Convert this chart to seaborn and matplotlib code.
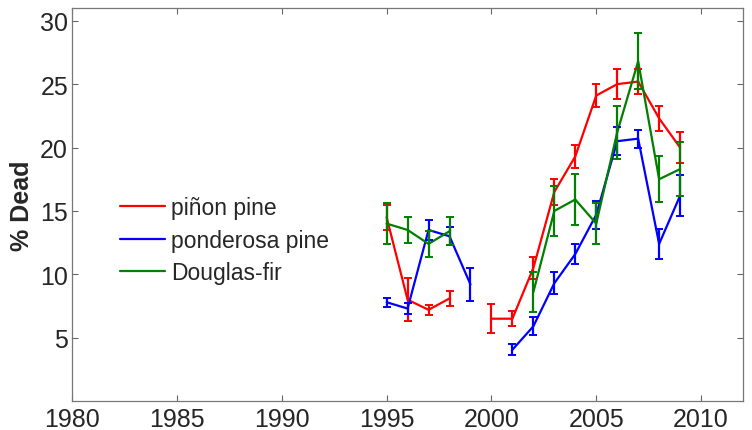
import numpy as np
import pandas as pd
import seaborn as sns
import matplotlib.pyplot as plt

# values (% dead, mean and error)
years = list(range(1995, 2010))
species = ['piñon pine', 'ponderosa pine', 'Douglas-fir']
colors = ['#ff0000', '#0000ff', '#007f00']

pinon = [14.5, 8.0, 7.2, 8.1, np.nan, 6.5, 6.5, 10.5, 16.5, 19.3, 24.1, 25.0, 25.2, 22.3, 20.0]
pinon_err = [1.0, 1.7, 0.4, 0.6, np.nan, 1.15, 0.6, 0.9, 1.0, 0.9, 0.9, 1.2, 1.0, 1.0, 1.2]
ponderosa = [7.8, 7.3, 13.5, 13.0, 9.2, np.nan, 4.05, 5.9, 9.3, 11.6, 14.7, 20.5, 20.7, 12.4, 16.2]
ponderosa_err = [0.35, 0.4, 0.8, 0.7, 1.3, np.nan, 0.45, 0.7, 0.85, 0.8, 1.1, 1.1, 0.7, 1.2, 1.6]
douglas = [14.0, 13.5, 12.4, 13.4, np.nan, np.nan, np.nan, 8.6, 15.0, 15.9, 14.0, 21.2, 26.8, 17.5, 18.3]
douglas_err = [1.6, 1.0, 1.0, 1.1, np.nan, np.nan, np.nan, 1.6, 2.0, 2.0, 1.6, 2.1, 2.2, 1.8, 2.1]

frames = []
for name, vals, errs in zip(species, [pinon, ponderosa, douglas],
                            [pinon_err, ponderosa_err, douglas_err]):
    d = pd.DataFrame({'year': years, 'dead': vals, 'err': errs, 'species': name})
    # break the line where years are missing
    d['segment'] = d['dead'].isna().cumsum()
    frames.append(d.dropna())
df = pd.concat(frames, ignore_index=True)

sns.set_style('ticks')
plt.rcParams['font.family'] = ['Liberation Sans', 'DejaVu Sans']

fig = plt.figure(figsize=(7.52, 4.31), dpi=100)
ax = fig.add_axes([0.096, 0.067, 0.892, 0.912])

pal = dict(zip(species, colors))
sns.lineplot(data=df, x='year', y='dead', hue='species', units='segment',
             estimator=None, palette=pal, hue_order=species, linewidth=1.6, ax=ax)

for name in species:
    s = df[df['species'] == name]
    ax.errorbar(s['year'], s['dead'], yerr=s['err'], fmt='none',
                ecolor=pal[name], elinewidth=1.6, capsize=3, capthick=1.4)

ax.set_xlim(1980, 2012)
ax.set_ylim(0, 31)
ax.set_xticks(range(1980, 2011, 5))
ax.set_yticks(range(5, 31, 5))
ax.tick_params(direction='in', top=True, right=True, labelsize=18, length=4,
               color='#666666', width=0.8)
ax.tick_params(axis='x', pad=4)
ax.tick_params(axis='y', pad=3)
for sp in ax.spines.values():
    sp.set_visible(True)
    sp.set_color('#777777')
    sp.set_linewidth(0.9)

ax.set_xlabel('')
ax.set_ylabel('% Dead', fontsize=18, fontweight='bold', labelpad=4)

ax.legend(loc='upper left', bbox_to_anchor=(0.057, 0.545), frameon=False,
          fontsize=16.5, handlelength=2.0, handletextpad=0.25, labelspacing=0.42,
          borderaxespad=0)

fig.savefig('out.png', dpi=100)
